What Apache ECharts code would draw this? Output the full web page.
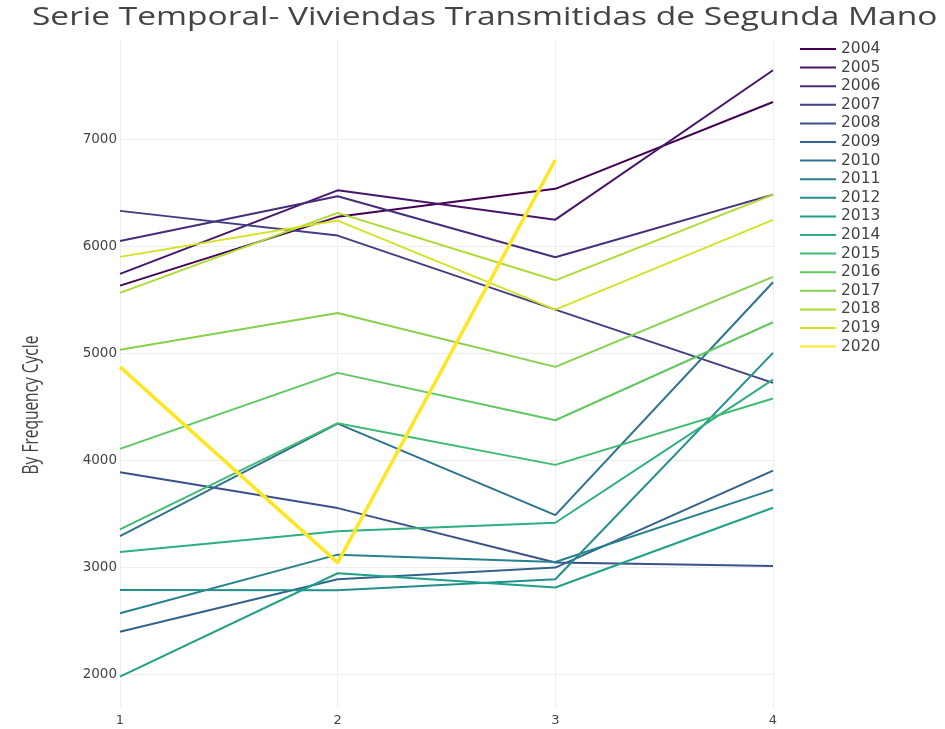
<!DOCTYPE html>
<html>
<head>
<meta charset="utf-8">
<script src="https://cdn.jsdelivr.net/npm/echarts@6/dist/echarts.min.js"></script>
<style>
  html, body { margin: 0; padding: 0; background: #fff; }
  #chart { width: 945px; height: 729px; }
</style>
</head>
<body>
<div id="chart"></div>
<script>
// Quarters of the year (x axis)
const quarters = [1, 2, 3, 4];

// Second-hand dwellings transferred, by year and quarter
const years = ['2004', '2005', '2006', '2007', '2008', '2009', '2010', '2011', '2012',
               '2013', '2014', '2015', '2016', '2017', '2018', '2019', '2020'];
const v2004 = [5635, 6278, 6540, 7352];
const v2005 = [5745, 6526, 6252, 7648];
const v2006 = [6053, 6470, 5900, 6486];
const v2007 = [6334, 6103, 5411, 4726];
const v2008 = [3891, 3556, 3047, 3015];
const v2009 = [2400, 2891, 3000, 3907];
const v2010 = [3295, 4345, 3490, 5667];
const v2011 = [2574, 3121, 3052, 3729];
const v2012 = [2791, 2788, 2891, 5007];
const v2013 = [1980, 2947, 2814, 3559];
const v2014 = [3146, 3340, 3419, 4757];
const v2015 = [3357, 4350, 3960, 4580];
const v2016 = [4109, 4820, 4377, 5293];
const v2017 = [5035, 5380, 4876, 5717];
const v2018 = [5567, 6315, 5685, 6486];
const v2019 = [5904, 6243, 5411, 6250];
const v2020 = [4876, 3046, 6810];
const values = [v2004, v2005, v2006, v2007, v2008, v2009, v2010, v2011, v2012,
                v2013, v2014, v2015, v2016, v2017, v2018, v2019, v2020];

// Viridis sampled at 17 evenly spaced points
const palette = ['#440154', '#461769', '#472c7a', '#413f84', '#3b518a', '#33628d',
                 '#2d728e', '#27808e', '#22908b', '#20a088', '#2dae7f', '#40bb73',
                 '#60c860', '#84d34a', '#acdc31', '#d5e228', '#fde725'];

const FONT = "'DejaVu Sans', Verdana, sans-serif";
const TXT = '#444';
const GRID = '#ebedf0';

const series = years.map((y, i) => ({
  name: y,
  type: 'line',
  symbol: 'none',
  data: values[i].map((v, k) => [quarters[k], v]),
  lineStyle: { width: y === '2020' ? 3.5 : 2, color: palette[i] },
  itemStyle: { color: palette[i] },
  emphasis: { disabled: true },
  z: 2 + i
}));

const chart = echarts.init(document.getElementById('chart'), null, { renderer: 'canvas' });
chart.setOption({
  animation: false,
  backgroundColor: '#fff',
  legend: {
    orient: 'vertical',
    left: 800,
    top: 41,
    icon: 'rect',
    itemWidth: 36,
    itemHeight: 2,
    itemGap: 2.6,
    padding: 0,
    textStyle: { fontFamily: FONT, fontSize: 15.5, color: TXT },
    data: years
  },
  grid: { left: 120, right: 172, top: 40, bottom: 22, containLabel: false },
  xAxis: {
    type: 'value',
    min: 1,
    max: 4,
    interval: 1,
    axisLine: { show: false },
    axisTick: { show: false },
    axisLabel: { margin: 7, fontFamily: FONT, fontSize: 13, color: TXT },
    splitLine: { show: true, lineStyle: { color: GRID, width: 1 } }
  },
  yAxis: {
    type: 'value',
    min: 1697,
    max: 7931,
    splitNumber: 5,
    axisLine: { show: false },
    axisTick: { show: false },
    axisLabel: { margin: 3, fontFamily: FONT, fontSize: 13.5, color: TXT,
                 showMinLabel: false, showMaxLabel: false,
                 formatter: (v) => String(v) },
    splitLine: { show: true, showMinLine: false, showMaxLine: false,
                 lineStyle: { color: GRID, width: 1 } }
  },
  graphic: [{
    // chart title, drawn wide
    type: 'text',
    x: 32,
    y: 5,
    scaleX: 1.34,
    style: {
      text: 'Serie Temporal- Viviendas Transmitidas de Segunda Mano',
      fontFamily: "'Open Sans', sans-serif",
      fontSize: 25,
      fill: TXT,
      align: 'left',
      verticalAlign: 'top'
    }
  }, {
    // y axis title, set vertically
    type: 'text',
    x: 32,
    y: 405,
    rotation: Math.PI / 2,
    scaleY: 1.4,
    style: {
      text: 'By Frequency Cycle',
      fontFamily: "'Open Sans', sans-serif",
      fontSize: 15.5,
      fill: TXT,
      align: 'center',
      verticalAlign: 'middle'
    }
  }],
  series: series
});
</script>
</body>
</html>
